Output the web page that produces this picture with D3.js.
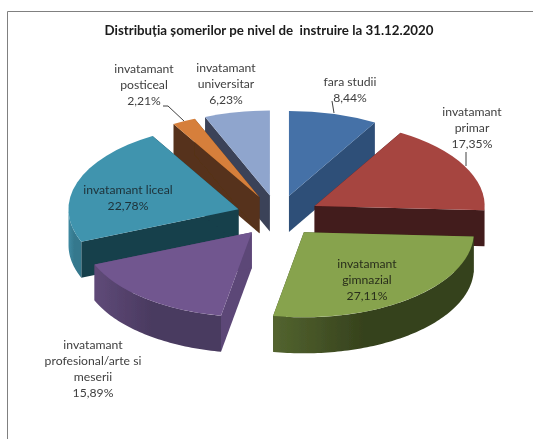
<!DOCTYPE html>
<html>
<head>
<meta charset="utf-8">
<script src="https://d3js.org/d3.v7.min.js"></script>
<style>
html, body { margin: 0; padding: 0; background: #fff; }
svg { display: block; }
text { font-family: Lato, "Open Sans", sans-serif; fill: #404040; font-size: 12.2px; }
</style>
</head>
<body>
<svg id="grafico"></svg>
<script>
// order is clockwise from 12 o'clock, as in the original
const categorii = ['fara studii', 'invatamant primar', 'invatamant gimnazial',
    'invatamant profesional/arte si meserii', 'invatamant liceal',
    'invatamant posticeal', 'invatamant universitar'];
const valori = [8.44, 17.35, 27.11, 15.89, 22.78, 2.21, 6.23];
const culoriSus = ['#4471a7', '#a64441', '#87a34d', '#71568f', '#3f94ae', '#d67f3a', '#8fa5cd'];
const culoriPerete = ['#2f4f78', '#431a1a', '#36421d', '#5c4677', '#193f4b', '#56321a', '#3a4258'];
const culoriMargine = [
    ['#2f4f78', '#2f4f78'], ['#431a1a', '#431a1a'], ['#53642f', '#36421d'],
    ['#5f4a78', '#4a3a60'], ['#3f8aa2', '#35788d'], ['#56321a', '#56321a'], ['#3a4258', '#3a4258']
];
const randuri = [['fara studii', '8,44%'], ['invatamant', 'primar', '17,35%'],
    ['invatamant', 'gimnazial', '27,11%'], ['invatamant', 'profesional/arte si', 'meserii', '15,89%'],
    ['invatamant liceal', '22,78%'], ['invatamant', 'posticeal', '2,21%'],
    ['invatamant', 'universitar', '6,23%']];
const etichetePoz = [[350, 86], [472, 116], [367, 268], [93, 349], [128, 194], [144, 73], [226, 72]];
const culoriText = ['#404040', '#404040', '#2a2f1c', '#404040', '#1f3138', '#404040', '#404040'];
const linii = [[[332, 101], [334, 113]], [[466, 152], [466, 166]], null, null, null,
    [[163, 106], [168, 106], [184, 121]], null];

const latime = 533, inaltime = 439;
const cx = 278, cy = 216, rx = 170, ry = 85, adancime = 36, explozie = 0.245;
const rand = 16;

const svg = d3.select('#grafico').attr('width', latime).attr('height', inaltime);

let defs = svg.append('defs');
// the original is a soft screenshot
defs.append('filter').attr('id', 'moale')
    .append('feGaussianBlur').attr('stdDeviation', 0.4);

const scena = svg.append('g').attr('filter', 'url(#moale)');

scena.append('rect').attr('width', latime).attr('height', inaltime).attr('fill', '#fff');

scena.append('path')
    .attr('d', `M7.5,${inaltime}V11.5H${latime}`)
    .attr('fill', 'none').attr('stroke', '#808080').attr('stroke-width', 1);

scena.append('text')
    .attr('x', 269).attr('y', 34.5)
    .attr('text-anchor', 'middle')
    .style('font-weight', 'bold').style('font-size', '13.3px').style('fill', '#1a1a1a')
    .style('white-space', 'pre')
    .text('Distribuția șomerilor pe nivel de  instruire la 31.12.2020');

const felii = d3.pie().sort(null).value((d) => d)(valori);
const arc = d3.arc().innerRadius(0).outerRadius(1);

// 3D projection: x and y of a unit-circle point, from a clockwise angle
const fnX = d3.scaleLinear().domain([-1, 1]).range([-rx, rx]);
const fnY = d3.scaleLinear().domain([-1, 1]).range([-ry, ry]);
const punct = (a, o) => [o[0] + fnX(Math.sin(a)), o[1] + fnY(-Math.cos(a))];
const centru = (f) => {
    let m = (f.startAngle + f.endAngle) / 2;
    return [cx + fnX(Math.sin(m)) * explozie, cy + fnY(-Math.cos(m)) * explozie];
};

culoriMargine.forEach((c, i) => {
    let g = defs.append('linearGradient').attr('id', 'margine' + i);
    g.append('stop').attr('offset', '0%').attr('stop-color', c[0]);
    g.append('stop').attr('offset', '45%').attr('stop-color', c[1]);
    g.append('stop').attr('offset', '100%').attr('stop-color', c[1]);
});

// back to front, the order the slices overlap in the picture
const ordine = [6, 0, 5, 1, 4, 3, 2];

function perete(o, a) {
    let p = punct(a, o);
    return `M${o[0]},${o[1]}L${p[0]},${p[1]}L${p[0]},${p[1] + adancime}L${o[0]},${o[1] + adancime}Z`;
}

function margine(o, a0, a1) {
    // rim only shows on the part of the ellipse that faces the viewer
    let inceput = Math.max(a0, Math.PI / 2), sfarsit = Math.min(a1, Math.PI * 1.5);
    if (inceput >= sfarsit) return null;
    let pasi = d3.range(inceput, sfarsit, 0.02).concat([sfarsit]).map((a) => punct(a, o));
    let jos = pasi.slice().reverse().map((p) => [p[0], p[1] + adancime]);
    return d3.line()(pasi.concat(jos)) + 'Z';
}

ordine.forEach((i) => {
    let f = felii[i], o = centru(f);
    let g = scena.append('g').attr('class', 'felie');
    g.append('path').attr('d', perete(o, f.startAngle)).attr('fill', culoriPerete[i]);
    g.append('path').attr('d', perete(o, f.endAngle)).attr('fill', culoriPerete[i]);
    let m = margine(o, f.startAngle, f.endAngle);
    if (m) g.append('path').attr('d', m).attr('fill', `url(#margine${i})`);
    g.append('path')
        .attr('d', arc(f))
        .attr('transform', `translate(${o[0]},${o[1]}) scale(${rx},${ry})`)
        .attr('fill', culoriSus[i]);
});

linii.forEach((l) => {
    if (!l) return;
    scena.append('path').attr('d', d3.line()(l))
        .attr('fill', 'none').attr('stroke', '#404040').attr('stroke-width', 1);
});

randuri.forEach((r, i) => {
    let t = scena.append('text').attr('text-anchor', 'middle').style('fill', culoriText[i]);
    r.forEach((s, j) => {
        t.append('tspan').attr('x', etichetePoz[i][0]).attr('y', etichetePoz[i][1] + j * rand).text(s);
    });
});
</script>
</body>
</html>
